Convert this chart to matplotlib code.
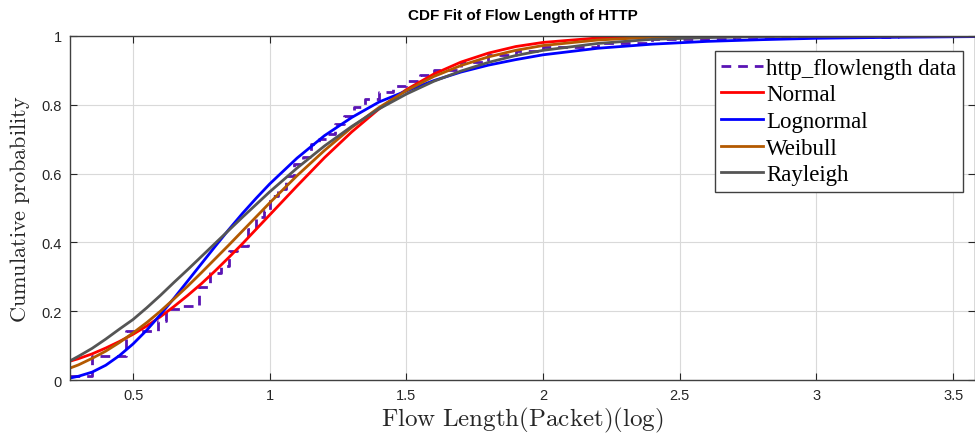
import numpy as np
import matplotlib
matplotlib.use("Agg")
import matplotlib.pyplot as plt

plt.rcParams["mathtext.fontset"] = "cm"

# empirical CDF (step points) of http flow length
data_x = [0.27, 0.35, 0.475, 0.59, 0.62, 0.68, 0.74, 0.78, 0.82, 0.85, 0.88, 0.92,
          0.95, 0.98, 1.00, 1.03, 1.06, 1.09, 1.12, 1.15, 1.18, 1.21, 1.24, 1.27,
          1.31, 1.35, 1.40, 1.45, 1.50, 1.55, 1.60, 1.70, 1.80, 1.90, 2.00, 2.20,
          2.40, 2.70, 3.00, 3.30, 3.60]
data_y = [0.013, 0.07, 0.143, 0.172, 0.205, 0.216, 0.27, 0.31, 0.332, 0.376, 0.39, 0.44,
          0.473, 0.49, 0.536, 0.555, 0.594, 0.628, 0.648, 0.686, 0.70, 0.715, 0.744, 0.768,
          0.793, 0.817, 0.836, 0.855, 0.87, 0.885, 0.90, 0.925, 0.945, 0.957, 0.967, 0.98,
          0.99, 0.996, 0.998, 0.999, 1.0]

# fitted curves read at these x positions
fit_x = [0.27, 0.3, 0.35, 0.4, 0.45, 0.5, 0.55, 0.6, 0.65, 0.7, 0.75, 0.8, 0.85, 0.9,
         0.95, 1.0, 1.1, 1.2, 1.3, 1.4, 1.5, 1.6, 1.7, 1.8, 1.9, 2.0, 2.2, 2.4, 2.6,
         2.8, 3.0, 3.3, 3.6]
normal = [0.055, 0.062, 0.076, 0.093, 0.112, 0.133, 0.157, 0.184, 0.214, 0.246, 0.280,
          0.317, 0.356, 0.396, 0.438, 0.480, 0.564, 0.646, 0.721, 0.788, 0.844, 0.889,
          0.924, 0.950, 0.969, 0.981, 0.994, 0.998, 1.0, 1.0, 1.0, 1.0, 1.0]
lognormal = [0.006, 0.011, 0.023, 0.043, 0.071, 0.105, 0.145, 0.190, 0.238, 0.288, 0.338,
             0.388, 0.437, 0.484, 0.528, 0.570, 0.645, 0.710, 0.763, 0.808, 0.840, 0.870,
             0.895, 0.915, 0.931, 0.945, 0.964, 0.976, 0.984, 0.989, 0.993, 0.996, 0.998]
weibull = [0.035, 0.044, 0.063, 0.084, 0.109, 0.137, 0.167, 0.200, 0.236, 0.273, 0.312,
           0.352, 0.392, 0.433, 0.474, 0.515, 0.594, 0.667, 0.734, 0.792, 0.841, 0.882,
           0.914, 0.939, 0.958, 0.972, 0.988, 0.996, 0.999, 1.0, 1.0, 1.0, 1.0]
rayleigh = [0.056, 0.069, 0.092, 0.119, 0.148, 0.176, 0.210, 0.246, 0.284, 0.321, 0.359,
            0.397, 0.435, 0.473, 0.510, 0.547, 0.616, 0.680, 0.737, 0.788, 0.831, 0.868,
            0.898, 0.923, 0.943, 0.958, 0.978, 0.990, 0.995, 0.998, 0.999, 1.0, 1.0]

fig = plt.figure(figsize=(9.75, 4.39), dpi=100)
ax = fig.add_axes([0.072, 0.132, 0.928, 0.784])

ax.step(data_x, data_y, where="post", color="#5a14b4", lw=2, ls="--",
        dashes=(3.5, 2.5), label="http_flowlength data")
ax.plot(fit_x, normal, color="#ff0000", lw=2, label="Normal")
ax.plot(fit_x, lognormal, color="#0000ff", lw=2, label="Lognormal")
ax.plot(fit_x, weibull, color="#b35900", lw=2, label="Weibull")
ax.plot(fit_x, rayleigh, color="#555555", lw=2, label="Rayleigh")

ax.set_xlim(0.27, 3.58)
ax.set_ylim(0, 1)
ax.set_xticks([0.5, 1, 1.5, 2, 2.5, 3, 3.5])
ax.set_xticklabels(["0.5", "1", "1.5", "2", "2.5", "3", "3.5"])
ax.set_yticks([0, 0.2, 0.4, 0.6, 0.8, 1])
ax.set_yticklabels(["0", "0.2", "0.4", "0.6", "0.8", "1"])
ax.grid(True, color="#d9d9d9", lw=0.8)
ax.set_axisbelow(True)
ax.tick_params(direction="in", top=True, right=True, length=5, width=0.8,
               colors="#262626", labelsize=10.5, pad=6)
for lab in ax.get_xticklabels() + ax.get_yticklabels():
    lab.set_family("Liberation Sans")
for s in ax.spines.values():
    s.set_color("#404040")
    s.set_linewidth(1)

ax.set_title("CDF Fit of Flow Length of HTTP", fontsize=11, fontweight="bold",
             family="Liberation Sans", pad=12)
ax.set_xlabel(r"$\mathrm{Flow\ Length(Packet)(log)}$", fontsize=18,
              color="#262626", labelpad=2)
ax.set_ylabel(r"$\mathrm{Cumulative\ probability}$", fontsize=16,
              color="#262626", labelpad=7)

leg = ax.legend(loc="upper right", bbox_to_anchor=(0.987, 0.956),
                prop={"family": "Liberation Serif", "size": 16.5},
                handlelength=1.8, handletextpad=0.15, labelspacing=0.24,
                borderaxespad=0, borderpad=0.3, fancybox=False, framealpha=1)
leg.get_frame().set_edgecolor("#404040")
leg.get_frame().set_linewidth(1)

fig.savefig("out.png", dpi=100)
